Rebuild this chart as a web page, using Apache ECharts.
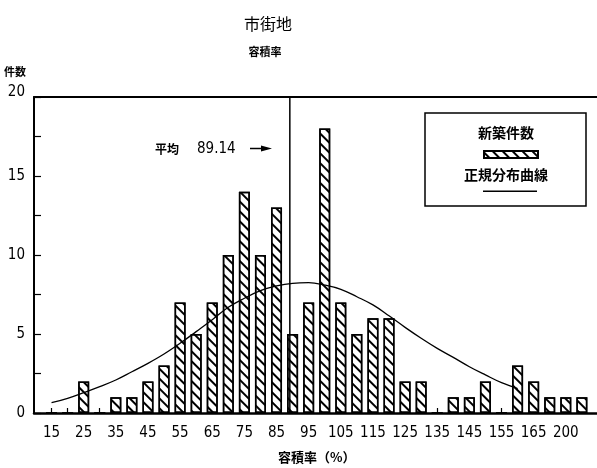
<!DOCTYPE html>
<html>
<head>
<meta charset="utf-8">
<title>市街地 容積率</title>
<script src="https://cdn.jsdelivr.net/npm/echarts@6/dist/echarts.min.js"></script>
<style>
  html, body { margin: 0; padding: 0; background: #fff; }
  #chart { width: 597px; height: 468px; }
</style>
</head>
<body>
<div id="chart"></div>
<script>
// 容積率の階級（%）
const categories = ['15', '20', '25', '30', '35', '40', '45', '50', '55', '60', '65', '70',
  '75', '80', '85', '90', '95', '100', '105', '110', '115', '120', '125', '130', '135',
  '140', '145', '150', '155', '160', '165', '170', '200', '205']
// 新築件数
const counts = [0, 0, 2, 0, 1, 1, 2, 3, 7, 5, 7, 10, 14, 10, 13, 5, 7, 18, 7, 5, 6, 6,
  2, 2, 0, 1, 1, 2, 0, 3, 2, 1, 1, 1]
// 正規分布曲線
const curveValues = [0.65, 0.93, 1.29, 1.67, 2.09, 2.61, 3.14, 3.73, 4.41, 5.15, 5.9,
  6.69, 7.26, 7.74, 8.04, 8.21, 8.25, 8.1, 7.83, 7.36, 6.84, 6.15, 5.42, 4.73, 4.09,
  3.52, 2.93, 2.41, 1.92, 1.55, null, null, null, null]
const meanValue = 89.14
const yMax = 20

const narrow = "'Liberation Sans Narrow', 'DejaVu Sans Condensed', sans-serif"
const jp = "'Noto Sans CJK JP', sans-serif"

// 斜線ハッチング（右下がり）
const hatch = {
  symbol: 'rect',
  symbolSize: 1,
  color: '#000',
  dashArrayX: [1, 0],
  dashArrayY: [1.4, 4.4],
  rotation: Math.PI / 4
}

const chart = echarts.init(document.getElementById('chart'))

const option = {
  backgroundColor: '#fff',
  animation: false,
  title: [
    {
      text: '市街地',
      left: 263, top: 11,
      textAlign: 'center',
      textStyle: { fontFamily: jp, fontSize: 16, fontWeight: 'normal', color: '#000' }
    },
    {
      text: '容積率',
      left: 260, top: 41,
      textAlign: 'center',
      textStyle: { fontFamily: jp, fontSize: 11, fontWeight: 'bold', color: '#000' }
    }
  ],
  legend: [
    {
      data: ['新築件数'],
      left: 478, top: 145,
      itemWidth: 54, itemHeight: 7,
      icon: 'rect',
      formatter: () => '',
      textStyle: { fontSize: 7, lineHeight: 7 },
      selectedMode: false
    },
    {
      data: ['正規分布曲線'],
      left: 478, top: 185.5,
      itemWidth: 54, itemHeight: 1.5,
      icon: 'rect',
      itemStyle: { color: '#000', borderWidth: 0 },
      formatter: () => '',
      textStyle: { fontSize: 7, lineHeight: 7 },
      selectedMode: false
    }
  ],
  grid: [
    // 枠と目盛り
    { left: 34, right: 0, top: 97, height: 316, outerBoundsMode: 'none' },
    // 棒グラフ
    { left: 43.5, width: 546.4, top: 97, height: 316, outerBoundsMode: 'none' }
  ],
  xAxis: [
    {
      type: 'value', gridIndex: 0, min: 9.55, max: 184.7,
      axisLine: { show: true, lineStyle: { color: '#000', width: 2.5 } },
      axisTick: { show: false }, axisLabel: { show: false }, splitLine: { show: false }
    },
    {
      type: 'value', gridIndex: 0, position: 'top', min: 0, max: 1,
      axisLine: { show: true, lineStyle: { color: '#000', width: 2 } },
      axisTick: { show: false }, axisLabel: { show: false }, splitLine: { show: false }
    },
    {
      type: 'category', gridIndex: 1, data: categories,
      axisLine: { show: false },
      axisTick: { show: true, inside: true, length: 5, alignWithLabel: true, interval: 0,
        lineStyle: { color: '#000', width: 1.2 } },
      axisLabel: { interval: 1, margin: 13, color: '#000', fontFamily: narrow, fontSize: 15 },
      name: '容積率（%）',
      nameLocation: 'middle',
      nameGap: 38,
      nameTextStyle: { fontFamily: jp, fontSize: 13, fontWeight: 'bold', color: '#000' }
    }
  ],
  yAxis: [
    {
      type: 'value', gridIndex: 0, min: 0, max: yMax, interval: 5,
      name: '件数',
      nameGap: 20,
      nameTextStyle: { fontFamily: jp, fontSize: 11, fontWeight: 'bold', color: '#000',
        align: 'right', padding: [0, 8, 0, 0] },
      axisLine: { show: true, lineStyle: { color: '#000', width: 2 } },
      axisTick: { show: true, inside: true, length: 7, lineStyle: { color: '#000', width: 1.2 } },
      minorTick: { show: true, splitNumber: 2, length: 7, lineStyle: { color: '#000', width: 1.2 } },
      axisLabel: {
        margin: 9, color: '#000', fontFamily: narrow, fontSize: 15,
        formatter: v => (v === yMax ? '{top|' + v + '}' : String(v)),
        rich: { top: { fontFamily: narrow, fontSize: 15, color: '#000', padding: [0, 0, 10, 0] } }
      },
      splitLine: { show: false }
    },
    {
      type: 'value', gridIndex: 1, min: 0, max: yMax,
      show: false
    }
  ],
  series: [
    {
      name: '新築件数',
      type: 'bar',
      xAxisIndex: 2, yAxisIndex: 1,
      data: counts,
      barWidth: 11,
      itemStyle: { color: '#fff', borderColor: '#000', borderWidth: 1.5, decal: hatch },
      z: 2
    },
    {
      name: '正規分布曲線',
      type: 'line',
      xAxisIndex: 2, yAxisIndex: 1,
      data: curveValues,
      smooth: 0.4,
      symbol: 'none',
      itemStyle: { color: '#000' },
      lineStyle: { color: '#000', width: 1.3 },
      z: 3
    },
    {
      name: '平均',
      type: 'line',
      xAxisIndex: 0, yAxisIndex: 0,
      data: [[meanValue, 0], [meanValue, yMax]],
      symbol: 'none',
      lineStyle: { color: '#000', width: 1.5 },
      z: 4
    }
  ],
  graphic: [
    {
      type: 'rect',
      shape: { x: 425, y: 113, width: 161, height: 93 },
      style: { fill: 'none', stroke: '#000', lineWidth: 1.5 }
    },
    {
      type: 'text', x: 506, y: 133,
      style: { text: '新築件数', fontFamily: jp, fontSize: 14, fontWeight: 'bold',
        fill: '#000', align: 'center', verticalAlign: 'middle' }
    },
    {
      type: 'text', x: 506, y: 175,
      style: { text: '正規分布曲線', fontFamily: jp, fontSize: 14, fontWeight: 'bold',
        fill: '#000', align: 'center', verticalAlign: 'middle' }
    },
    {
      type: 'text', x: 155, y: 149,
      style: {
        text: '{a|平均}{b|' + meanValue + '}',
        verticalAlign: 'middle',
        rich: {
          a: { fontFamily: jp, fontSize: 12, fontWeight: 'bold', fill: '#000' },
          b: { fontFamily: narrow, fontSize: 15, fill: '#000', padding: [0, 0, 0, 18] }
        }
      }
    },
    {
      type: 'line',
      shape: { x1: 250, y1: 148.5, x2: 263, y2: 148.5 },
      style: { stroke: '#000', lineWidth: 1.5 }
    },
    {
      type: 'polygon',
      shape: { points: [[261, 145.5], [272, 148.5], [261, 151.5]] },
      style: { fill: '#000' }
    }
  ]
}

chart.setOption(option)
</script>
</body>
</html>
